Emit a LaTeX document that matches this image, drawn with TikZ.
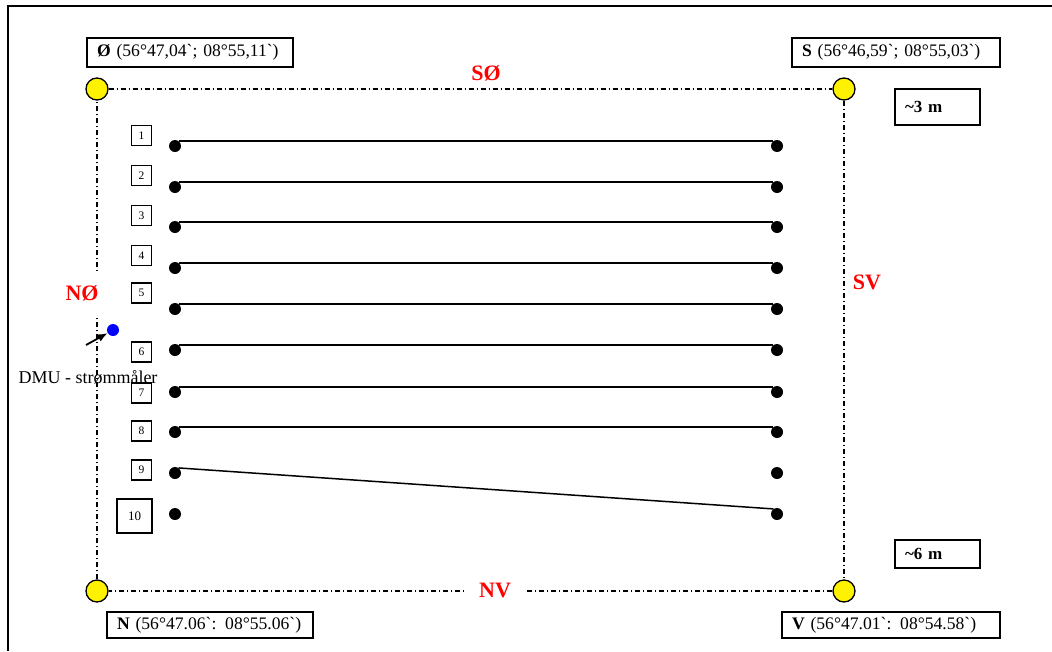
\documentclass[tikz,border=0pt]{standalone}
\usepackage{fontspec}
\setmainfont{Liberation Serif}
\usetikzlibrary{arrows.meta}
\newcommand\gq{\textasciigrave}
\begin{document}
\begin{tikzpicture}[x=1pt,y=-1pt,
  corner/.style={circle, draw, fill=yellow, minimum size=22pt, inner sep=0pt, line width=1.3pt},
  dot/.style={circle, fill=black, minimum size=12pt, inner sep=0pt},
  numbox/.style={draw, line width=1.3pt, minimum size=20pt, inner sep=0pt, font=\fontsize{11.5}{11.5}\selectfont},
  coordbox/.style={draw, line width=1.4pt, inner xsep=10pt, inner ysep=0pt, align=left, font=\fontsize{17.6}{19}\selectfont},
  distbox/.style={draw, line width=1.4pt, minimum width=85pt, text width=65pt, inner xsep=10pt, inner ysep=0pt, align=left, font=\bfseries\fontsize{17}{19}\selectfont},
  side/.style={text=red, font=\bfseries\fontsize{22}{22}\selectfont},
  plotline/.style={line width=1.5pt},
  border/.style={dash pattern=on 5pt off 3pt on 1pt off 3pt, line width=1.3pt},
  frame/.style={line width=1.6pt}
]
\useasboundingbox (0,0) rectangle (1052,651);
\fill[white] (0,0) rectangle (1052,651);
\coordinate (ftr) at (1052,6);
\coordinate (ftl) at (8,6);
\coordinate (fbl) at (8,651);
\draw[frame] (ftr) -- (ftl) -- (fbl);

% corner markers
\node[corner] (cO) at (97,89) {};
\node[corner] (cS) at (844,89) {};
\node[corner] (cN) at (97,591) {};
\node[corner] (cV) at (844,591) {};
\draw[border] (cO) -- (cS) -- (cV) -- (cN) -- (cO);

% side labels
\node[side] (lSO) at (486,73) {SØ};
\node[side, fill=white, inner xsep=14pt, inner ysep=4pt] (lNV) at (495,590) {NV};
\node[side, fill=white, inner xsep=3pt, inner ysep=14pt] (lNO) at (82,293) {NØ};
\node[side] (lSV) at (867,282) {SV};

% coordinate boxes
\node[coordbox, text width=186pt, minimum height=29pt] (bO) at (190,52.5) {\textbf{Ø} (56°47,04\gq; 08°55,11\gq)};
\node[coordbox, text width=188pt, minimum height=29pt] (bS) at (896,52.5) {\textbf{S} (56°46,59\gq; 08°55,03\gq)};
\node[coordbox, text width=186pt, minimum height=26pt] (bN) at (210,625) {\textbf{N} (56°47.06\gq: 08°55.06\gq)};
\node[coordbox, text width=198pt, minimum height=26pt] (bV) at (891,625) {\textbf{V} (56°47.01\gq: 08°54.58\gq)};

% distance boxes
\node[distbox, minimum height=36pt] (d3) at (937.5,107) {\textasciitilde3 m};
\node[distbox, minimum height=28pt] (d6) at (937.5,554) {\textasciitilde6 m};

% dots and lines
\foreach \i/\y in {1/146,2/187,3/227,4/268,5/309,6/350,7/392,8/432,9/473,10/514} {
  \node[dot] (l\i) at (175,\y) {};
  \node[dot] (r\i) at (777,\y) {};
}
\foreach \i in {1,...,8} { \draw[plotline] (l\i.55) -- (r\i.125); }
\draw[plotline] (l9.55) -- (r10.125);

% number boxes
\foreach \i/\y in {1/135.5,2/175.5,3/215.5,4/255.5,5/293,6/352,7/393,8/431,9/470} {
  \node[numbox] (n\i) at (141.5,\y) {\i};
}
\node[numbox, minimum width=35pt, minimum height=34pt, font=\fontsize{13}{13}\selectfont] (n10) at (134.5,516) {10};

% DMU
\node[circle, fill=blue, minimum size=12pt, inner sep=0pt] (dmu) at (113,330) {};
\coordinate (atail) at (86,345);
\draw[-{Latex[length=10pt,width=8pt]}, line width=1.8pt] (atail) -- (dmu.210);
\node[font=\fontsize{18}{20}\selectfont] (dmul) at (88,377) {DMU - strømmåler};
\end{tikzpicture}
\end{document}
